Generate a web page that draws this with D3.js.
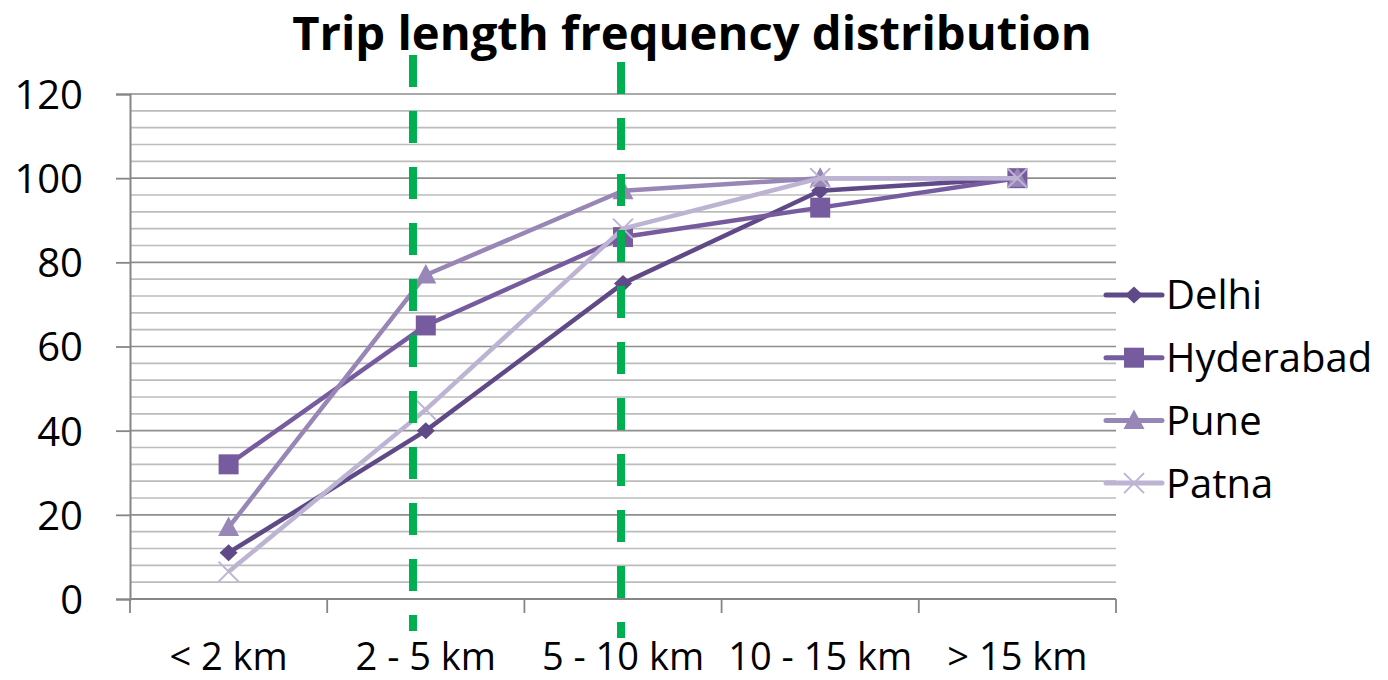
<!doctype html>
<html>
<head>
<style>
  body { margin: 0; background: #fff; }
  svg text { font-family: "Open Sans", sans-serif; fill: #000; }
</style>
<script src="https://d3js.org/d3.v7.min.js"></script>
</head>
<body>
<svg width="1388" height="680"></svg>
<script>
// data
var categories = ["< 2 km", "2 - 5 km", "5 - 10 km", "10 - 15 km", "> 15 km"];
var seriesNames = ["Delhi", "Hyderabad", "Pune", "Patna"];
var delhi     = [11, 40, 75, 97, 100];
var hyderabad = [32, 65, 86, 93, 100];
var pune      = [17, 77, 97, 100, 100];
var patna     = [6.5, 45, 88, 100, 100];
var yTicks = [0, 20, 40, 60, 80, 100, 120];
// the two hand drawn green boundaries, in category units from the left edge
var dividerAt = [1.435, 2.49];

var colors = ["#5f4a87", "#765c9e", "#9886b7", "#bdb3d3"];
// marker outlines, roughly the size of the Excel ones
var markerPaths = [
    "M0,-8.5L9,0L0,8.5L-9,0Z",
    "M-10,-10H10V10H-10Z",
    "M0,-11L10.5,8.5L-10.5,8.5Z",
    "M-10,-10L10,10M-10,10L10,-10"
];
var allSeries = [delhi, hyderabad, pune, patna];

var svg = d3.select("svg");
var plotLeft = 130, plotRight = 1116, plotTop = 94, plotBottom = 599;

var x = d3.scaleBand().domain(categories).range([plotLeft, plotRight]).padding(0);
var xEdge = d3.scaleLinear().domain([0, categories.length]).range([plotLeft, plotRight]);
var y = d3.scaleLinear().domain([0, 120]).range([plotBottom, plotTop]);

// title, fitted to the width of the original
var title = svg.append("text")
   .attr("x", 692)
   .attr("y", 50)
   .attr("text-anchor", "middle")
   .attr("font-weight", "bold")
   .attr("font-size", "48px")
   .text("Trip length frequency distribution");
var tw = title.node().getComputedTextLength();
title.attr("font-size", (48 * 800 / tw) + "px");

// minor grid every 4, major every 20
var g = svg.append("g");
g.selectAll(".minor")
 .data(d3.range(4, 120, 4).filter(function(d) { return d % 20 != 0; }))
 .enter().append("line")
 .attr("x1", plotLeft).attr("x2", plotRight)
 .attr("y1", function(d) { return y(d); })
 .attr("y2", function(d) { return y(d); })
 .attr("stroke", "#bcbcbc")
 .attr("stroke-width", 1.6);

g.selectAll(".major")
 .data(yTicks.slice(1))
 .enter().append("line")
 .attr("x1", plotLeft).attr("x2", plotRight)
 .attr("y1", function(d) { return y(d); })
 .attr("y2", function(d) { return y(d); })
 .attr("stroke", "#8e8e8e")
 .attr("stroke-width", 1.6);

// y axis
var yAxis = svg.append("g")
   .attr("transform", "translate(" + plotLeft + ",0)")
   .call(d3.axisLeft(y).tickValues(yTicks).tickSize(14).tickPadding(33));
yAxis.selectAll("line").attr("stroke", "#868686").attr("stroke-width", 1.8);
yAxis.select(".domain").attr("stroke", "#868686").attr("stroke-width", 2);
yAxis.selectAll("text")
     .attr("font-size", "40px")
     .attr("font-family", "'Open Sans', sans-serif")
     .attr("dy", "0.36em");

// x axis: ticks on the band edges, labels in the middle
var xAxis = svg.append("g")
   .attr("transform", "translate(0," + plotBottom + ")");
xAxis.append("line")
     .attr("x1", plotLeft).attr("x2", plotRight)
     .attr("stroke", "#868686").attr("stroke-width", 2);
xAxis.selectAll(".tick")
     .data(d3.range(categories.length + 1))
     .enter().append("line")
     .attr("x1", function(d) { return xEdge(d); })
     .attr("x2", function(d) { return xEdge(d); })
     .attr("y1", 0).attr("y2", 14)
     .attr("stroke", "#868686").attr("stroke-width", 1.8);
xAxis.selectAll(".lab")
     .data(categories)
     .enter().append("text")
     .attr("x", function(d) { return x(d) + x.bandwidth() / 2; })
     .attr("y", 71)
     .attr("text-anchor", "middle")
     .attr("font-size", "38px")
     .text(function(d) { return d; });

// series
var line = d3.line()
   .x(function(d, i) { return x(categories[i]) + x.bandwidth() / 2; })
   .y(function(d) { return y(d); });

function marker(sel, i) {
    var p = sel.append("path").attr("d", markerPaths[i]);
    if (i == 3) p.attr("stroke", colors[i]).attr("stroke-width", 2).attr("fill", "none");
    else p.attr("fill", colors[i]);
}

allSeries.forEach(function(vals, i) {
    svg.append("path")
       .datum(vals)
       .attr("d", line)
       .attr("fill", "none")
       .attr("stroke", colors[i])
       .attr("stroke-width", 4.5)
       .attr("stroke-linejoin", "round");
    svg.selectAll(".m" + i)
       .data(vals)
       .enter().append("g")
       .attr("transform", function(d, j) {
           return "translate(" + (x(categories[j]) + x.bandwidth() / 2) + "," + y(d) + ")";
       })
       .each(function() { marker(d3.select(this), i); });
});

// legend
var legend = svg.append("g");
seriesNames.forEach(function(name, i) {
    var row = legend.append("g").attr("transform", "translate(1106," + (295 + i * 62.7) + ")");
    row.append("line")
       .attr("x1", 0).attr("x2", 56)
       .attr("stroke", colors[i]).attr("stroke-width", 5)
       .attr("stroke-linecap", "round");
    marker(row.append("g").attr("transform", "translate(28,0)"), i);
    row.append("text")
       .attr("x", 60)
       .attr("dy", "0.36em")
       .attr("font-size", "40px")
       .text(name);
});

// green dashed boundaries drawn over everything
var tops = [55, 62], ends = [631, 638];
svg.selectAll(".divider")
   .data(dividerAt)
   .enter().append("line")
   .attr("x1", function(d) { return xEdge(d); })
   .attr("x2", function(d) { return xEdge(d); })
   .attr("y1", function(d, i) { return tops[i]; })
   .attr("y2", function(d, i) { return ends[i]; })
   .attr("stroke", "#00b050")
   .attr("stroke-width", 8)
   .attr("stroke-dasharray", "32,24");
</script>
</body>
</html>
